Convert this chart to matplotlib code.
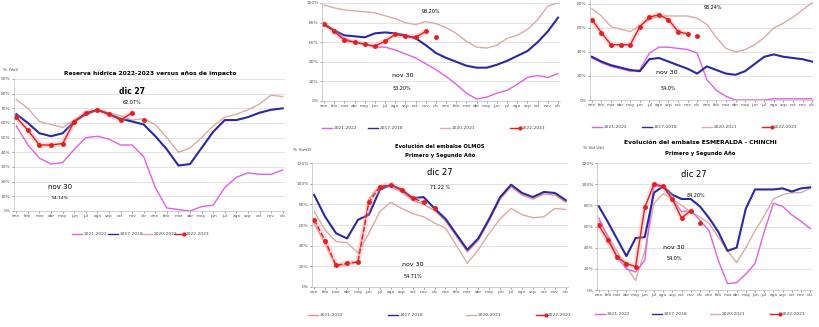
import matplotlib
matplotlib.use("Agg")
import matplotlib.pyplot as plt
import numpy as np

W, H = 819, 327

months = ["ene", "feb", "mar", "abr", "may", "jun", "jul", "ago", "sep", "oct", "nov", "dic"] * 2
series_names = ["2021-2022", "2017-2018", "2020-2021", "2022-2023"]

# panel 1 - reserva total
p1_mag = [58, 45, 36, 32, 33, 42, 50, 51, 49, 45, 45, 37, 16, 2, 1, 0, 3, 4, 16, 23, 26, 25, 25, 28]
p1_blue = [66, 60, 53, 51, 53, 61, 66, 69, 66, 63, 61, 59, 51, 42, 31, 32, 43, 54, 62, 62, 64, 67, 69, 70]
p1_tan = [76, 70, 61, 59, 57, 62, 66, 69, 67, 65, 62, 63, 59, 50, 40, 43, 50, 58, 64, 66, 69, 73, 79, 78]
p1_red = [64, 55, 45, 45, 46, 61, 67, 69, 66, 62, 67, 62]

# panel 2
p2_mag = [79, 72, 64, 60, 58, 55, 55, 52, 48, 44, 38, 32, 25, 17, 8, 2, 4, 8, 11, 17, 24, 26, 24, 28]
p2_blue = [78, 72, 67, 66, 65, 69, 70, 69, 67, 64, 57, 49, 44, 40, 36, 34, 34, 37, 41, 46, 51, 60, 71, 85]
p2_tan = [98, 95, 93, 92, 91, 90, 87, 84, 80, 78, 81, 79, 75, 69, 61, 55, 54, 57, 64, 67, 73, 83, 97, 100]
p2_red = [79, 71, 62, 60, 58, 56, 61, 68, 66, 65, 71, 65]

# panel 3
p3_mag = [35, 31, 28, 26, 24, 25, 39, 44, 44, 43, 42, 39, 17, 8, 3, 0, 0, 0, 0, 1, 1, 1, 1, 1]
p3_blue = [36, 32, 29, 27, 25, 24, 34, 35, 32, 29, 26, 22, 28, 25, 22, 21, 24, 30, 36, 38, 36, 35, 34, 32]
p3_tan = [76, 70, 61, 59, 57, 62, 67, 70, 70, 70, 70, 68, 63, 52, 43, 40, 42, 46, 52, 60, 64, 69, 75, 81]
p3_red = [67, 56, 46, 46, 46, 61, 69, 71, 67, 57, 55, 53]

# panel 4 - Olmos
p4_pink = [62, 42, 20, 22, 25, 85, 98, 97, 92, 84, 80, 74, 64, 49, 34, 45, 64, 85, 97, 89, 85, 90, 89, 82]
p4_blue = [89, 68, 52, 47, 65, 70, 94, 99, 94, 86, 87, 76, 66, 51, 36, 47, 66, 87, 99, 91, 87, 92, 91, 84]
p4_tan = [73, 55, 44, 43, 33, 52, 73, 82, 76, 71, 68, 62, 57, 40, 23, 36, 52, 66, 76, 70, 67, 68, 76, 75]
p4_red = [65, 45, 21, 23, 24, 82, 97, 99, 94, 86, 82, 76]

# panel 5 - Esmeralda
p5_mag = [68, 50, 31, 20, 17, 28, 99, 97, 86, 74, 75, 66, 56, 28, 6, 7, 15, 25, 55, 82, 79, 71, 65, 58]
p5_blue = [79, 64, 48, 32, 49, 50, 92, 98, 90, 86, 86, 79, 68, 55, 37, 40, 77, 95, 95, 95, 96, 93, 96, 97]
p5_tan = [65, 51, 36, 22, 9, 37, 82, 91, 86, 80, 74, 69, 63, 50, 37, 26, 40, 56, 70, 86, 90, 92, 92, 96]
p5_red = [61, 47, 31, 25, 22, 78, 100, 98, 86, 68, 75, 63]


def box(l, t, r, b):
    return [l / W, 1 - b / H, (r - l) / W, (b - t) / H]


def panel(rect, mag, blue, tan, red, ymax, ystep, magc="#e060e0", red_ls="-"):
    ax = fig.add_axes(rect)
    x = np.arange(len(blue))
    ax.plot(x, tan, color="#dcaaa2", lw=1.0)
    ax.plot(x, mag, color=magc, lw=1.0)
    ax.plot(x, blue, color="#2a2aa0", lw=1.5)
    xr = np.arange(len(red))
    ax.plot(xr[:-1], red[:-1], color="#f4a0a0", lw=4, alpha=0.35, solid_capstyle="round")
    ax.plot(xr[:-1], red[:-1], color="#e02020", lw=1.0, ls=red_ls, marker="o", ms=2.5)
    ax.plot(xr[-1:], red[-1:], color="#e02020", ls="none", marker="o", ms=2.5)
    ax.set_ylim(0, ymax)
    ax.set_xlim(-0.2, len(blue) - 0.8)
    ax.set_yticks(np.arange(0, ymax + 0.1, ystep))
    ax.set_yticklabels([f"{int(v)}%" for v in np.arange(0, ymax + 0.1, ystep)])
    ax.set_xticks(x)
    ax.set_xticklabels(months[:len(x)])
    ax.tick_params(labelsize=3.2, length=1.5, width=0.4, colors="#555555", pad=1)
    ax.grid(axis="y", color="#d8d8d8", lw=0.5)
    for s in ["top", "right"]:
        ax.spines[s].set_visible(False)
    ax.spines["left"].set_color("#bbbbbb")
    ax.spines["bottom"].set_color("#bbbbbb")
    ax.spines["left"].set_linewidth(0.5)
    ax.spines["bottom"].set_linewidth(0.5)
    return ax


def legend_row(y, xs, magc="#e060e0"):
    colors = [magc, "#2a2aa0", "#dcaaa2", "#e02020"]
    for i in range(4):
        x0 = xs[i] / W
        yy = 1 - y / H
        fig.add_artist(plt.Line2D([x0, x0 + 10 / W], [yy, yy], color=colors[i], lw=1,
                                  marker="o" if i == 3 else None, ms=2, markevery=[1] if i == 3 else None))
        fig.text(x0 + 12 / W, yy, series_names[i], fontsize=3.2, color="#444444", va="center")


fig = plt.figure(figsize=(W / 100, H / 100), dpi=100)

ax1 = panel(box(14, 79, 285, 211), p1_mag, p1_blue, p1_tan, p1_red, 90, 10)
fig.text(150 / W, 1 - 73 / H, "Reserva hídrica 2022-2023 versus años de impacto", fontsize=4.3,
         fontweight="bold", ha="center", va="center")
fig.text(3 / W, 1 - 70 / H, "% (Vol)", fontsize=3.2, color="#444444", va="center")
ax1.text(10, 80, "dic 27", fontsize=5.5, fontweight="bold", ha="center")
ax1.text(10, 73, "62.07%", fontsize=3.5, ha="center")
ax1.text(3.8, 15, "nov 30", fontsize=5, ha="center")
ax1.text(3.8, 8, "54.14%", fontsize=3.2, ha="center")
legend_row(234, [72, 108, 142, 174])

ax2 = panel(box(322, 3, 560, 101), p2_mag, p2_blue, p2_tan, p2_red, 100, 20)
ax2.text(10.5, 90, "93.20%", fontsize=3.5, ha="center")
ax2.text(7.7, 24, "nov 30", fontsize=4.5, ha="center")
ax2.text(7.7, 11, "53.20%", fontsize=3.5, ha="center")
legend_row(128, [322, 368, 440, 510])

ax3 = panel(box(590, 0, 814, 100), p3_mag, p3_blue, p3_tan, p3_red, 83.3, 20)
ax3.text(12.7, 76, "93.24%", fontsize=3.5, ha="center")
ax3.text(7.8, 22, "nov 30", fontsize=4.5, ha="center")
ax3.text(8, 8, "54.0%", fontsize=3.5, ha="center")
legend_row(127, [592, 642, 702, 762])

ax4 = panel(box(312, 163, 568, 287), p4_pink, p4_blue, p4_tan, p4_red, 120, 20,
            magc="#f08a8a", red_ls="--")
fig.text(440 / W, 1 - 146 / H, "Evolución del embalse OLMOS", fontsize=3.8, fontweight="bold",
         ha="center", va="center")
fig.text(440 / W, 1 - 155 / H, "Primero y Segundo Año", fontsize=3.8, fontweight="bold",
         ha="center", va="center")
fig.text(293 / W, 1 - 150 / H, "% (hm3)", fontsize=3.2, color="#444444", va="center")
ax4.text(11.5, 108, "dic 27", fontsize=6, ha="center")
ax4.text(11.5, 95, "71.22 %", fontsize=3.5, ha="center")
ax4.text(9, 20, "nov 30", fontsize=4.5, ha="center")
ax4.text(9, 9, "54.71%", fontsize=3.5, ha="center")
legend_row(315, [308, 388, 466, 536], magc="#f08a8a")

ax5 = panel(box(597, 163, 812, 290), p5_mag, p5_blue, p5_tan, p5_red, 120, 20)
fig.text(700 / W, 1 - 143 / H, "Evolución del embalse ESMERALDA - CHINCHI", fontsize=4.3,
         fontweight="bold", ha="center", va="center")
fig.text(700 / W, 1 - 153 / H, "Primero y Segundo Año", fontsize=3.8, fontweight="bold",
         ha="center", va="center")
fig.text(583 / W, 1 - 148 / H, "% Vol Útil", fontsize=3.2, color="#444444", va="center")
ax5.text(10.3, 107, "dic 27", fontsize=6, ha="center")
ax5.text(10.6, 88, "84.20%", fontsize=3.5, ha="center")
ax5.text(8.2, 39, "nov 30", fontsize=4.5, ha="center")
ax5.text(8.2, 28, "54.0%", fontsize=3.5, ha="center")
legend_row(314, [595, 652, 710, 770])

fig.savefig("out.png", dpi=100, facecolor="white")
